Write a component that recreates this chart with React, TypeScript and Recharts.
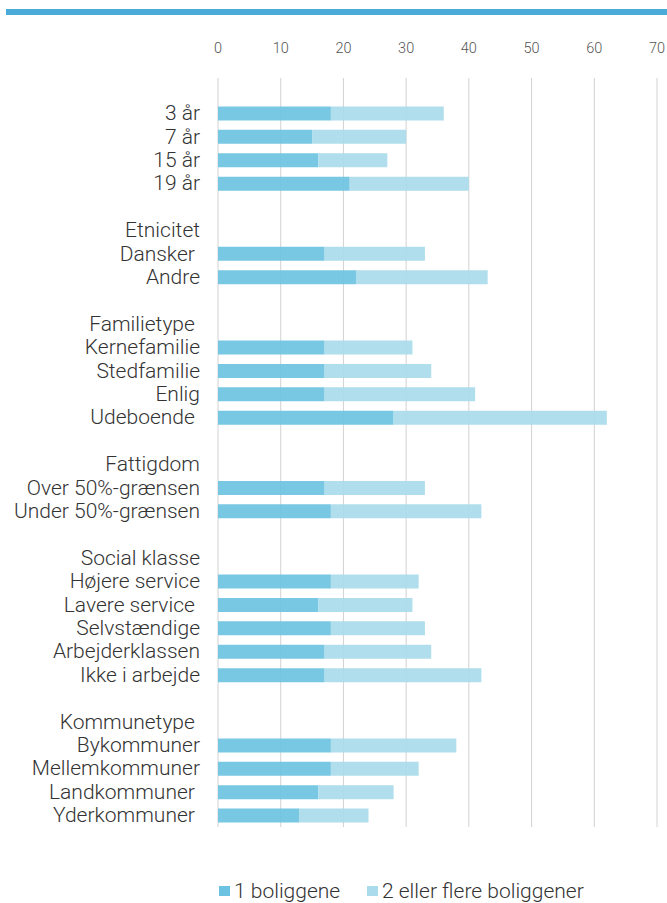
import { Bar, BarChart, CartesianGrid, XAxis, YAxis } from "recharts";

// blank strings = spacer rows, group headers carry no bars
const categories = [
  "",
  "3 år",
  "7 år",
  "15 år",
  "19 år",
  "",
  "Etnicitet",
  "Dansker ",
  "Andre",
  "",
  "Familietype ",
  "Kernefamilie",
  "Stedfamilie",
  "Enlig",
  "Udeboende ",
  "",
  "Fattigdom",
  "Over 50%-grænsen",
  "Under 50%-grænsen",
  "",
  "Social klasse",
  "Højere service",
  "Lavere service ",
  "Selvstændige",
  "Arbejderklassen",
  "Ikke i arbejde",
  "",
  "Kommunetype ",
  "Bykommuner",
  "Mellemkommuner",
  "Landkommuner ",
  "Yderkommuner ",
];

const oneGene: (number | null)[] = [
  null, 18, 15, 16, 21,
  null, null, 17, 22,
  null, null, 17, 17, 17, 28,
  null, null, 17, 18,
  null, null, 18, 16, 18, 17, 17,
  null, null, 18, 18, 16, 13,
];

const twoOrMore: (number | null)[] = [
  null, 18, 15, 11, 19,
  null, null, 16, 21,
  null, null, 14, 17, 24, 34,
  null, null, 16, 24,
  null, null, 14, 15, 15, 17, 25,
  null, null, 20, 14, 12, 11,
];

const xTicks = [0, 10, 20, 30, 40, 50, 60, 70];

const seriesNames = ["1 boliggene", "2 eller flere boliggener"];

const data = categories.map((label, i) => ({
  key: `row${i}`,
  label,
  one: oneGene[i],
  two: twoOrMore[i],
}));

const DARK = "#6cc3e1";
const LIGHT = "#a9dbec";
const FONT = "Roboto, sans-serif";

function CategoryTick(props: any) {
  const { y, index } = props;
  return (
    <text
      x={200}
      y={y}
      dy={7}
      textAnchor="end"
      fontSize={21}
      fill="#333"
      fontFamily={FONT}
      fontWeight={300}
      style={{ whiteSpace: "pre" }}
    >
      {categories[index]}
    </text>
  );
}

export default function App() {
  const legendLeft = [219, 367];
  return (
    <div
      style={{
        position: "absolute",
        left: 0,
        top: 0,
        width: 667,
        height: 903,
        background: "#fff",
        fontFamily: FONT,
      }}
    >
      <div style={{ position: "absolute", left: 6, top: 9, width: 661, height: 6, background: "#4aabd8" }} />
      <BarChart
        layout="vertical"
        width={667}
        height={903}
        data={data}
        margin={{ top: 38, right: 10, bottom: 76, left: 0 }}
      >
        <CartesianGrid horizontal={false} vertical stroke="#d2d2d2" />
        <XAxis
          type="number"
          orientation="top"
          domain={[0, 70]}
          ticks={xTicks}
          axisLine={false}
          tickLine={false}
          height={40}
          tickMargin={19}
          tick={{ fontSize: 14.5, fill: "#555", fontFamily: FONT, fontWeight: 300 }}
        />
        <YAxis
          type="category"
          dataKey="key"
          width={218}
          axisLine={false}
          tickLine={false}
          interval={0}
          tick={<CategoryTick />}
        />
        <Bar dataKey="one" name={seriesNames[0]} stackId="s" fill={DARK} fillOpacity={0.92} barSize={14} isAnimationActive={false} />
        <Bar dataKey="two" name={seriesNames[1]} stackId="s" fill={LIGHT} fillOpacity={0.92} barSize={14} isAnimationActive={false} />
      </BarChart>
      {seriesNames.map((name, i) => (
        <div
          key={name}
          style={{ position: "absolute", left: legendLeft[i], top: 879, display: "flex", alignItems: "center" }}
        >
          <span
            style={{
              width: 11,
              height: 10,
              background: i === 0 ? DARK : LIGHT,
              display: "inline-block",
              marginRight: 4,
            }}
          />
          <span style={{ fontSize: 21, lineHeight: "24px", color: "#333", fontWeight: 300, whiteSpace: "nowrap" }}>
            {name}
          </span>
        </div>
      ))}
    </div>
  );
}
